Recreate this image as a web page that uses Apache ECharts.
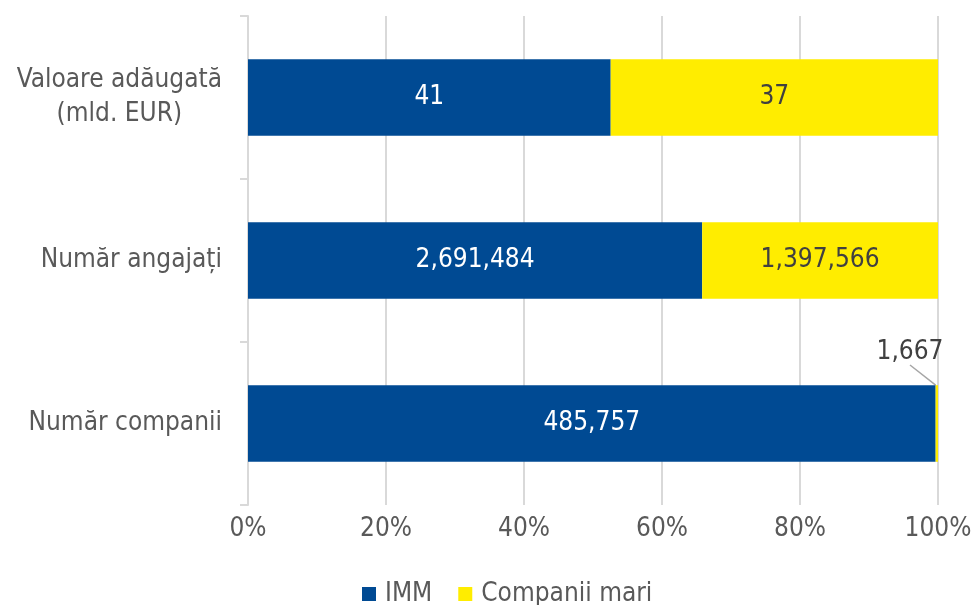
<!DOCTYPE html>
<html>
<head>
<meta charset="utf-8">
<script src="https://cdn.jsdelivr.net/npm/echarts@6/dist/echarts.min.js"></script>
<style>
  html, body { margin: 0; padding: 0; background: #fff; }
  #chart { width: 976px; height: 605px; }
</style>
</head>
<body>
<div id="chart"></div>
<script>
// categorii (de jos in sus, cum le pune echarts)
const categories = ['Număr companii', 'Număr angajați', 'Valoare adăugată\n(mld. EUR)'];
const immValues = [485757, 2691484, 41];
const mariValues = [1667, 1397566, 37];
const xTicks = [0, 20, 40, 60, 80, 100];

const totals = immValues.map((v, i) => v + mariValues[i]);
const immPct = immValues.map((v, i) => v / totals[i] * 100);
const mariPct = mariValues.map((v, i) => v / totals[i] * 100);

const fmt = n => n.toLocaleString('en-US');
const FONT = '"DejaVu Sans Condensed", "DejaVu Sans"';
const FS = 26;

const chart = echarts.init(document.getElementById('chart'));

const option = {
  animation: false,
  textStyle: { fontFamily: FONT },
  grid: { left: 248, right: 38, top: 16, bottom: 100 },
  legend: {
    top: 576,
    left: 357,
    itemWidth: 14,
    itemHeight: 14,
    itemGap: 26,
    icon: 'rect',
    textStyle: { color: '#595959', fontSize: FS, fontFamily: FONT, padding: [0, 0, 0, 4] },
    data: ['IMM', 'Companii mari']
  },
  xAxis: {
    type: 'value',
    min: xTicks[0],
    max: xTicks[xTicks.length - 1],
    interval: 20,
    axisLine: { show: false },
    axisTick: { show: false },
    splitLine: { lineStyle: { color: '#d9d9d9', width: 2 } },
    axisLabel: { color: '#595959', fontSize: FS, fontFamily: FONT, margin: 11, formatter: '{value}%' }
  },
  yAxis: {
    type: 'category',
    data: categories,
    axisLine: { show: true, lineStyle: { color: '#d9d9d9', width: 2 } },
    axisTick: { show: true, length: 8, lineStyle: { color: '#d9d9d9', width: 2 } },
    axisLabel: {
      color: '#595959',
      fontSize: FS,
      fontFamily: FONT,
      margin: 26,
      formatter: v => v.includes('\n') ? v.split('\n').map(s => '{c|' + s + '}').join('\n') : v,
      rich: { c: { align: 'center', fontSize: FS, fontFamily: FONT, color: '#595959', lineHeight: 34 } }
    }
  },
  series: [
    {
      name: 'IMM',
      type: 'bar',
      stack: 'total',
      barWidth: '47%',
      itemStyle: { color: '#004a93' },
      label: {
        show: true,
        position: 'inside',
        color: '#fff',
        fontSize: FS,
        fontFamily: FONT,
        formatter: p => fmt(immValues[p.dataIndex])
      },
      data: immPct
    },
    {
      name: 'Companii mari',
      type: 'bar',
      stack: 'total',
      barWidth: '47%',
      itemStyle: { color: '#ffed00' },
      label: {
        show: true,
        position: 'inside',
        color: '#404040',
        fontSize: FS,
        fontFamily: FONT,
        formatter: p => fmt(mariValues[p.dataIndex])
      },
      labelLine: { show: true, lineStyle: { color: '#a6a6a6', width: 1.5 } },
      labelLayout: p => p.dataIndex === 0 ? { x: 910, y: 352, align: 'center', verticalAlign: 'middle' } : {},
      data: mariPct
    }
  ]
};

chart.setOption(option);
</script>
</body>
</html>
